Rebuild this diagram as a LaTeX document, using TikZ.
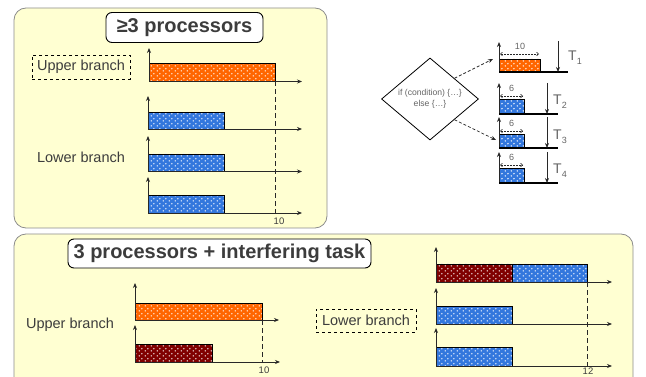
\documentclass[tikz,border=0pt]{standalone}
\usepackage{fontspec}
\setmainfont{Liberation Sans}
\usetikzlibrary{arrows.meta,patterns.meta,shapes.geometric}

\definecolor{panelfill}{RGB}{255,255,210}
\definecolor{panelline}{RGB}{140,140,140}
\definecolor{taskorange}{RGB}{255,102,0}
\definecolor{taskblue}{RGB}{51,119,221}
\definecolor{taskred}{RGB}{128,0,0}
\definecolor{labelgray}{RGB}{100,100,100}
\definecolor{axisgray}{RGB}{40,40,40}
\definecolor{textgray}{RGB}{60,60,60}

% staggered white dots laid over the task bars
\pgfdeclarepattern{
  name=whitedots,
  type=uncolored,
  bottom left={\pgfpoint{0pt}{0pt}},
  top right={\pgfpoint{6pt}{5pt}},
  tile size={\pgfpoint{6pt}{5pt}},
  code={
    \pgfpathcircle{\pgfpoint{1.5pt}{1.25pt}}{0.9pt}
    \pgfpathcircle{\pgfpoint{4.5pt}{3.75pt}}{0.9pt}
    \pgfusepath{fill}
  }
}

\newcommand\lowsub[1]{\raisebox{-0.5ex}{\fontsize{9}{9}\selectfont #1}}

\tikzset{
  panel/.style={draw=panelline, line width=0.8pt, fill=panelfill, rounded corners=12pt},
  titlebox/.style={draw=black, line width=0.9pt, fill=white, rounded corners=6pt,
    inner sep=0pt, font=\fontsize{20}{24}\selectfont\bfseries, text=textgray},
  branchbox/.style={draw=black, dashed, line width=0.8pt, inner sep=0pt,
    font=\fontsize{14.5}{17}\selectfont, text=textgray},
  branchtext/.style={inner sep=0pt, font=\fontsize{14.5}{17}\selectfont, text=textgray},
  taskbar/.style={preaction={fill=#1}, pattern=whitedots, pattern color=white!90!#1,
    draw=black, line width=0.9pt},
  axis/.style={draw=axisgray, line width=0.8pt, -{Stealth[length=5pt,width=4pt]}},
  deadline/.style={draw=axisgray, line width=0.9pt, dashed, dash pattern=on 5pt off 3pt},
  ticklabel/.style={inner sep=0pt, font=\fontsize{9.5}{11}\selectfont, text=textgray},
  dimlabel/.style={inner sep=0pt, font=\fontsize{9}{11}\selectfont, text=labelgray},
  dimarrow/.style={draw=axisgray, line width=0.6pt, dashed, dash pattern=on 2pt off 1pt,
    {Straight Barb[length=2pt,width=3.5pt]}-{Straight Barb[length=2pt,width=3.5pt]}},
  baseline/.style={draw=black, line width=1.6pt},
  period/.style={draw=axisgray, line width=0.8pt, -{Stealth[length=5pt,width=4pt]}},
  tlabel/.style={inner sep=0pt, anchor=west, font=\fontsize{14}{16}\selectfont, text=labelgray},
  flow/.style={draw=axisgray, line width=0.7pt, dash pattern=on 3pt off 2pt,
    -{Stealth[length=5pt,width=4pt]}}
}

\begin{document}
\begin{tikzpicture}[x=1pt,y=-1pt]
\useasboundingbox (0,0) rectangle (646,377);
\clip (0,0) rectangle (646,377);

% ---------------- upper panel: three or more processors ----------------
\draw[panel] (14,8) rectangle (327,228);
\node[titlebox, minimum width=157pt, minimum height=30pt] (title1) at (184.5,27.5) {≥3 processors};
\node[branchbox, minimum width=98pt, minimum height=24pt] (ub1) at (81,67) {Upper branch};
\node[branchtext] (lb1) at (81,157) {Lower branch};

% upper branch on its own processor
\coordinate (o1) at (149,81.5);
\draw[taskbar=taskorange] (o1) rectangle (275,63);
\draw[axis] (o1) -- (149,48);
\draw[axis] (o1) -- (302,81.5);

% lower branch split over three processors
\foreach \b/\t/\h in {129/96/112, 171.5/136/154, 213/177/195}{
  \draw[taskbar=taskblue] (148,\b) rectangle (224,\h);
  \draw[axis] (148,\b) -- (148,\t);
  \draw[axis] (148,\b) -- (302,\b);
}
\coordinate (d1top) at (275,81.5);
\coordinate (d1bot) at (275,213);
\draw[deadline] (d1top) -- (d1bot);
\node[ticklabel] (t10a) at (279,221) {10};

% ---------------- conditional task and its four subtasks ----------------
\node[draw=black, line width=0.8pt, diamond, minimum width=97pt, minimum height=56pt,
  inner sep=0pt, align=center, font=\fontsize{8.6}{10.5}\selectfont, text=labelgray]
  (cond) at (430,99) {if (condition) \{…\}\\else \{…\}};
\coordinate (toT1) at (493,59);
\coordinate (toT2) at (496,140);
\draw[flow] (cond.north east) -- (toT1);
\draw[flow] (cond.south east) -- (toT2);

% T1
\draw[taskbar=taskorange, line width=0.8pt] (499,72) rectangle (540,59);
\draw[axis] (499,72) -- (499,42);
\draw[baseline] (499,72) -- (568,72);
\draw[period] (558,41) -- (558,72);
\draw[dimarrow] (500,54) -- (539,54);
\node[dimlabel] (w1) at (520,46) {10};
\node[tlabel] (T1) at (568,58) {T\lowsub{1}};

% T2..T4
\foreach \b/\t/\h/\n in {114/83/99/2, 148/117/134/3, 183/152/168/4}{
  \draw[taskbar=taskblue, line width=0.8pt] (499,\b) rectangle (524,\h);
  \draw[axis] (499,\b) -- (499,\t);
  \draw[baseline] (499,\b) -- (558,\b);
  \draw[period] (547,\t) -- (547,\b);
  \draw[dimarrow] (500,\h-3) -- (523,\h-3);
  \node[dimlabel] at (511.5,\h-11) {6};
  \node[tlabel] at (553,\h+3) {T\lowsub{\n}};
}

% ---------------- lower panel: three processors and an interfering task ----------------
\draw[panel] (14,234) rectangle (633,392);
\node[titlebox, minimum width=303pt, minimum height=29pt] (title2) at (219.5,253.5) {3 processors + interfering task};
\node[branchtext] (ub2) at (70,325) {Upper branch};
\node[branchbox, minimum width=100pt, minimum height=23pt] (lb2) at (366,320.5) {Lower branch};

% upper branch, and the interfering task on a second processor
\draw[taskbar=taskorange] (135,320) rectangle (262,303);
\draw[axis] (135,320) -- (135,283);
\draw[axis] (135,320) -- (279,320);
\draw[taskbar=taskred] (135,362) rectangle (212,344);
\draw[axis] (135,362) -- (135,325);
\draw[axis] (135,362) -- (280,362);
\coordinate (d2top) at (262,320);
\coordinate (d2bot) at (262,362);
\draw[deadline] (d2top) -- (d2bot);
\node[ticklabel] (t10b) at (264,370.5) {10};

% lower branch, delayed by the interfering task on one processor
\draw[taskbar=taskred] (436,282) rectangle (512,264);
\draw[taskbar=taskblue] (512,282) rectangle (587,264);
\draw[axis] (436,282) -- (436,247);
\draw[axis] (436,282) -- (612,282);
\foreach \b/\t/\h in {324/288/306, 366/328/347}{
  \draw[taskbar=taskblue] (436,\b) rectangle (512,\h);
  \draw[axis] (436,\b) -- (436,\t);
  \draw[axis] (436,\b) -- (612,\b);
}
\coordinate (d3top) at (587,282);
\coordinate (d3bot) at (587,366);
\draw[deadline] (d3top) -- (d3bot);
\node[ticklabel] (t12) at (588,371.5) {12};
\end{tikzpicture}
\end{document}
